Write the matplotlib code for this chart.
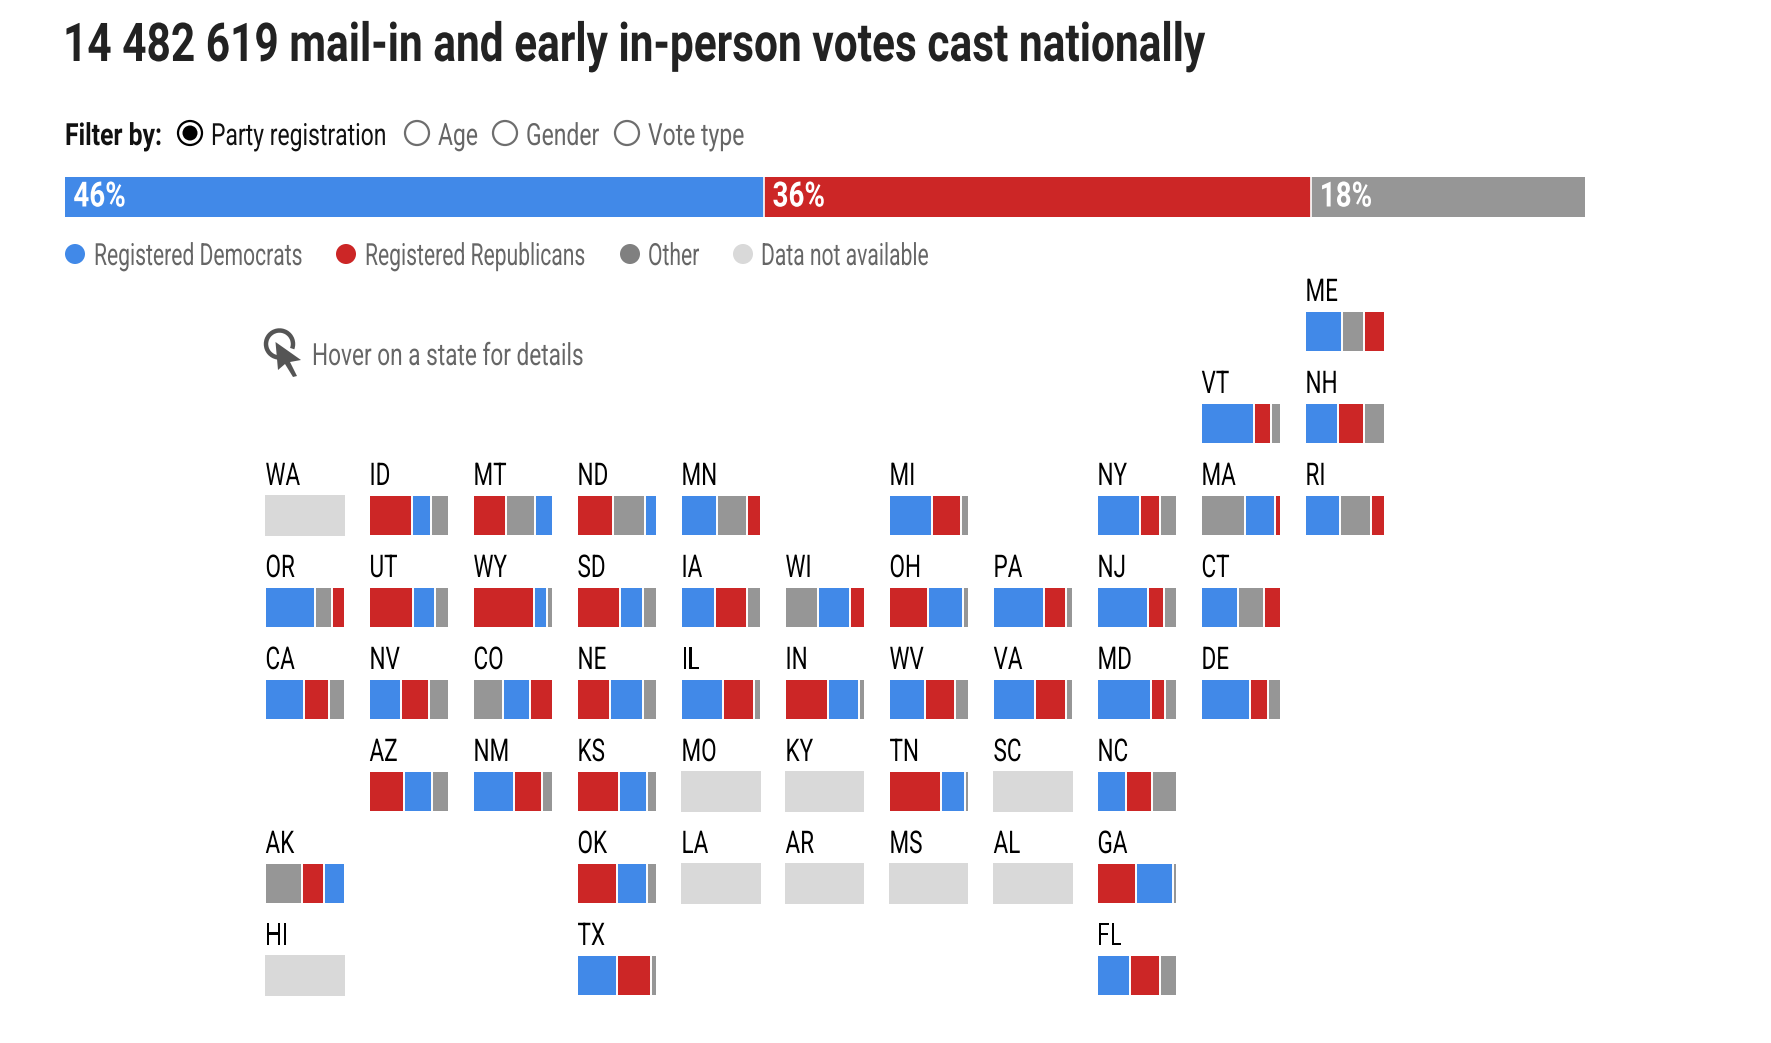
import matplotlib
matplotlib.use('Agg')
import matplotlib.pyplot as plt
from matplotlib.patches import Arc, Circle, Polygon
from matplotlib.patheffects import AbstractPathEffect
from matplotlib.text import Text
from matplotlib.transforms import Affine2D, Bbox

plt.rcParams['font.family'] = ['Roboto', 'DejaVu Sans']

# national totals
national_labels = ['46%', '36%', '18%']
national_values = [46, 36, 18]
national_colors = ['D', 'R', 'O']

legend_labels = ['Registered Democrats', 'Registered Republicans', 'Other', 'Data not available']
filter_labels = ['Party registration', 'Age', 'Gender', 'Vote type']

# tile grid
states = ['ME', 'VT', 'NH',
          'WA', 'ID', 'MT', 'ND', 'MN', 'MI', 'NY', 'MA', 'RI',
          'OR', 'UT', 'WY', 'SD', 'IA', 'WI', 'OH', 'PA', 'NJ', 'CT',
          'CA', 'NV', 'CO', 'NE', 'IL', 'IN', 'WV', 'VA', 'MD', 'DE',
          'AZ', 'NM', 'KS', 'MO', 'KY', 'TN', 'SC', 'NC',
          'AK', 'OK', 'LA', 'AR', 'MS', 'AL', 'GA',
          'HI', 'TX', 'FL']
grid_col = [10, 9, 10,
            0, 1, 2, 3, 4, 6, 8, 9, 10,
            0, 1, 2, 3, 4, 5, 6, 7, 8, 9,
            0, 1, 2, 3, 4, 5, 6, 7, 8, 9,
            1, 2, 3, 4, 5, 6, 7, 8,
            0, 3, 4, 5, 6, 7, 8,
            0, 3, 8]
grid_row = [0, 1, 1,
            2, 2, 2, 2, 2, 2, 2, 2, 2,
            3, 3, 3, 3, 3, 3, 3, 3, 3, 3,
            4, 4, 4, 4, 4, 4, 4, 4, 4, 4,
            5, 5, 5, 5, 5, 5, 5, 5,
            6, 6, 6, 6, 6, 6, 6,
            7, 7, 7]

# share of votes, None = data not available
dem = [47, 67, 41,
       None, 24, 22, 14, 45, 54, 54, 37, 44,
       63, 29, 17, 29, 43, 40, 44, 64, 64, 47,
       49, 40, 34, 42, 53, 39, 45, 53, 68, 62,
       36, 52, 36, None, None, 31, None, 36,
       25, 38, None, None, None, None, 47,
       None, 50, 42]
rep = [26, 21, 33,
       None, 54, 42, 45, 17, 37, 25, 7, 16,
       15, 55, 77, 54, 40, 18, 49, 28, 21, 20,
       32, 36, 28, 42, 39, 54, 38, 39, 18, 23,
       44, 35, 53, None, None, 65, None, 33,
       28, 50, None, None, None, None, 49,
       None, 44, 38]
other = [27, 12, 26,
         None, 22, 36, 41, 38, 9, 21, 56, 40,
         22, 16, 6, 17, 17, 42, 7, 8, 15, 33,
         19, 24, 38, 16, 8, 7, 17, 8, 14, 15,
         20, 13, 11, None, None, 4, None, 31,
         47, 12, None, None, None, None, 4,
         None, 6, 20]
# order of the segments inside each tile
seg_order = ['DOR', 'DRO', 'DRO',
             '', 'RDO', 'ROD', 'ROD', 'DOR', 'DRO', 'DRO', 'ODR', 'DOR',
             'DOR', 'RDO', 'RDO', 'RDO', 'DRO', 'ODR', 'RDO', 'DRO', 'DRO', 'DOR',
             'DRO', 'DRO', 'ODR', 'RDO', 'DRO', 'RDO', 'DRO', 'DRO', 'DRO', 'DRO',
             'RDO', 'DRO', 'RDO', '', '', 'RDO', '', 'DRO',
             'ORD', 'RDO', '', '', '', '', 'RDO',
             '', 'DRO', 'DRO']

BLUE = '#4189e8'
RED = '#cc2626'
GRAY = '#969696'
MISSING = '#d9d9d9'
colors = {'D': BLUE, 'R': RED, 'O': GRAY}

W, H = 1771, 1043
fig = plt.figure(figsize=(W / 100, H / 100), dpi=100, facecolor='white')

# overlay in pixel coordinates for the page furniture
page = fig.add_axes([0, 0, 1, 1])
page.set_xlim(0, W)
page.set_ylim(H, 0)
page.axis('off')


class Condense(AbstractPathEffect):
    # squeeze glyphs sideways around the text origin, no condensed font is installed
    def __init__(self, factor):
        super().__init__()
        self.factor = factor

    def draw_path(self, renderer, gc, tpath, affine, rgbFace=None):
        x0 = affine.get_matrix()[0, 2]
        squeeze = Affine2D().translate(-x0, 0).scale(self.factor, 1).translate(x0, 0)
        renderer.draw_path(gc, tpath, affine + squeeze, rgbFace)


class CondensedText(Text):
    # same text artist, but it reports the width that is really drawn
    def __init__(self, x, y, s, factor, **kwargs):
        super().__init__(x, y, s, path_effects=[Condense(factor)], **kwargs)
        self.factor = factor

    def get_window_extent(self, renderer=None, dpi=None):
        bb = super().get_window_extent(renderer, dpi)
        return Bbox.from_extents(bb.x0, bb.y0, bb.x0 + bb.width * self.factor, bb.y1)


def put_text(ax, x, y, s, factor, **kwargs):
    ax.add_artist(CondensedText(x, y, s, factor, va=kwargs.pop('va', 'baseline'), clip_on=False, **kwargs))


def px_axes(x, y, w, h):
    ax = fig.add_axes([x / W, 1 - (y + h) / H, w / W, h / H])
    ax.set_xlim(0, 100)
    ax.set_ylim(0, 1)
    ax.axis('off')
    return ax


def stacked(ax, values, keys, gap):
    left = 0
    for v, k in zip(values, keys):
        ax.barh(0.5, v, left=left, height=1, color=colors[k], linewidth=0)
        if left > 0:
            ax.axvline(left, color='white', linewidth=gap)
        left += v


put_text(page, 63, 61, '14 482 619 mail-in and early in-person votes cast nationally', 0.793,
         fontsize=38.5, fontweight='bold', color='#222222')

# filter row
put_text(page, 65, 145, 'Filter by:', 0.81, fontsize=22, fontweight='bold', color='#111111')
radio_x = [190, 417, 505, 627]
label_x = [211, 438, 526, 648]
for i, lab in enumerate(filter_labels):
    selected = i == 0
    page.add_patch(Circle((radio_x[i], 133), 12, facecolor='white',
                          edgecolor='black' if selected else '#6e6e6e', linewidth=1.6))
    if selected:
        page.add_patch(Circle((radio_x[i], 133), 7.5, facecolor='black', linewidth=0))
    put_text(page, label_x[i], 145, lab, 0.75, fontsize=22,
             color='#111111' if selected else '#666666')

# national bar
ax = px_axes(65, 177, 1520, 40)
stacked(ax, national_values, national_colors, 1.2)
left = 0
for v, lab in zip(national_values, national_labels):
    put_text(ax, left + 0.55, 0.5, lab, 0.8, va='center', color='white', fontsize=25, fontweight='bold')
    left += v

# legend
dot_x = [75, 346, 630, 743]
dot_colors = [BLUE, RED, '#808080', MISSING]
text_x = [94, 365, 648, 761]
for dx, c, tx, lab in zip(dot_x, dot_colors, text_x, legend_labels):
    page.add_patch(Circle((dx, 254), 10, facecolor=c, linewidth=0))
    put_text(page, tx, 265, lab, 0.69, fontsize=22, color='#666666')

# hover hint
page.add_patch(Arc((279.5, 344), 27, 27, theta1=60, theta2=380, color='#555555', linewidth=3.2))
page.add_patch(Polygon([(275.5, 342), (301, 360), (290, 362), (297, 376), (293, 377),
                        (285, 364), (278, 370)], closed=True, facecolor='#555555', linewidth=0))
put_text(page, 312, 365, 'Hover on a state for details', 0.74, fontsize=22, color='#666666')

# state tiles
COL0, COL_STEP = 265.5, 104
ROW0, ROW_STEP = 312, 92
TILE_W, TILE_H = 78.5, 39
for i, st in enumerate(states):
    x = COL0 + grid_col[i] * COL_STEP
    y = ROW0 + grid_row[i] * ROW_STEP
    put_text(page, x, y - 11, st, 0.72, fontsize=22.5, color='black')
    if dem[i] is None:
        ax = px_axes(x - 0.5, y - 1, TILE_W + 1, TILE_H + 2)
        ax.barh(0.5, 100, height=1, color=MISSING, linewidth=0)
    else:
        ax = px_axes(x, y, TILE_W, TILE_H)
        share = {'D': dem[i], 'R': rep[i], 'O': other[i]}
        stacked(ax, [share[k] for k in seg_order[i]], seg_order[i], 1.4)

fig.savefig('out.png', dpi=100, facecolor='white')
